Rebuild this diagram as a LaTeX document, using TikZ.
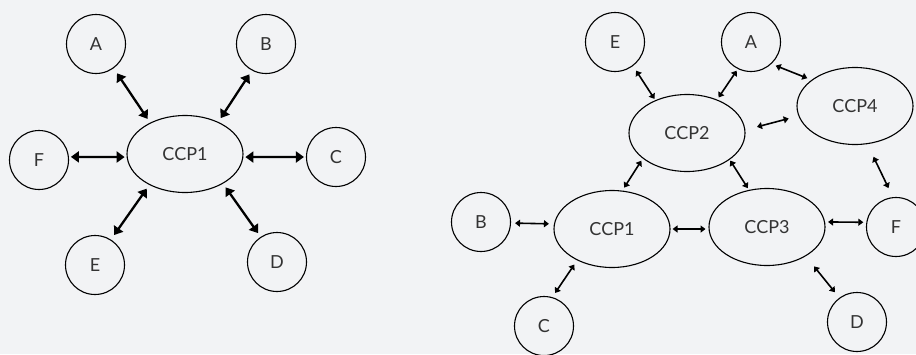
\documentclass[tikz,border=0pt]{standalone}
\usepackage{fontspec}
\setmainfont{Lato}
\usetikzlibrary{arrows.meta,shapes.geometric}
\definecolor{bgc}{HTML}{F2F3F5}
\definecolor{txt}{HTML}{333333}
\tikzset{
  circ/.style={circle,draw=black,line width=1.1pt,minimum size=59pt,inner sep=0pt,text=txt,font=\fontsize{18}{20}\selectfont},
  ell/.style={ellipse,draw=black,line width=1.1pt,minimum width=116pt,minimum height=77pt,inner sep=0pt,text=txt,font=\fontsize{18}{20}\selectfont},
  bigarr/.style={line width=2.3pt,{Triangle[length=8pt,width=11pt]}-{Triangle[length=8pt,width=11pt]},shorten <=4.5pt,shorten >=4.5pt},
  smallarr/.style={line width=1.6pt,{Triangle[length=5pt,width=7pt]}-{Triangle[length=5pt,width=7pt]},shorten <=3.5pt,shorten >=3.5pt}
}
\begin{document}
\begin{tikzpicture}[x=1pt,y=-1pt]
\fill[bgc] (0,0) rectangle (916,354);
\useasboundingbox (0,0) rectangle (916,354);
% left diagram
\node[ell] (L1) at (185,154) {CCP1};
\node[circ] (LA) at (96,44) {A};
\node[circ] (LB) at (266,44) {B};
\node[circ] (LF) at (39,160) {F};
\node[circ] (LC) at (336,157) {C};
\node[circ] (LE) at (95,265) {E};
\node[circ] (LD) at (277,262) {D};
\draw[bigarr,shorten <=6pt] (LA.-54) -- (L1.138);
\draw[bigarr] (LB.-118) -- (L1.44);
\draw[bigarr,shorten <=2pt,shorten >=2pt] (LF.6) -- (L1.183);
\draw[bigarr,shorten <=2pt,shorten >=2pt] (L1.-3) -- (LC.180);
\draw[bigarr,shorten <=5.5pt] (LE.58) -- (L1.221);
\draw[bigarr] (LD.123) -- (L1.-38);
% right diagram
\node[ell] (R2) at (687,133) {CCP2};
\node[ell] (R4) at (855,106) {CCP4};
\node[ell] (R1) at (612,229) {CCP1};
\node[ell] (R3) at (767,227) {CCP3};
\node[circ] (RE) at (615,42) {E};
\node[circ] (RA) at (751,42) {A};
\node[circ] (RB) at (481,222) {B};
\node[circ] (RF) at (896,227) {F};
\node[circ] (RC) at (544,326) {C};
\node[circ] (RD) at (857,322) {D};
\draw[smallarr,shorten <=5.5pt,shorten >=1.5pt] (RE.-53) -- (R2.134);
\draw[smallarr,shorten <=2pt,shorten >=2.5pt] (RA.-116) -- (R2.48);
\draw[smallarr,shorten <=4.5pt,shorten >=4.5pt] (RA.-47) -- (R4.149);
\draw[smallarr,shorten <=12pt,shorten >=10pt] (R2.3) -- (R4.190);
\draw[smallarr,shorten <=14pt,shorten >=10pt] (R4.-72) -- (RF.96);
\draw[smallarr,shorten <=2.5pt,shorten >=3.5pt] (R2.210) -- (R1.75);
\draw[smallarr,shorten <=1pt,shorten >=2pt] (R2.-32) -- (R3.116);
\draw[smallarr,shorten <=4pt,shorten >=5pt] (RB.-2) -- (R1.175);
\draw[smallarr,shorten <=2pt,shorten >=3pt] (R1.0) -- (R3.182);
\draw[smallarr,shorten <=3pt,shorten >=3pt] (R3.5) -- (RF.171);
\draw[smallarr,shorten <=5pt,shorten >=5pt] (R1.222) -- (RC.74);
\draw[smallarr,shorten <=13pt,shorten >=7pt] (R3.-37) -- (RD.126);
\end{tikzpicture}
\end{document}
